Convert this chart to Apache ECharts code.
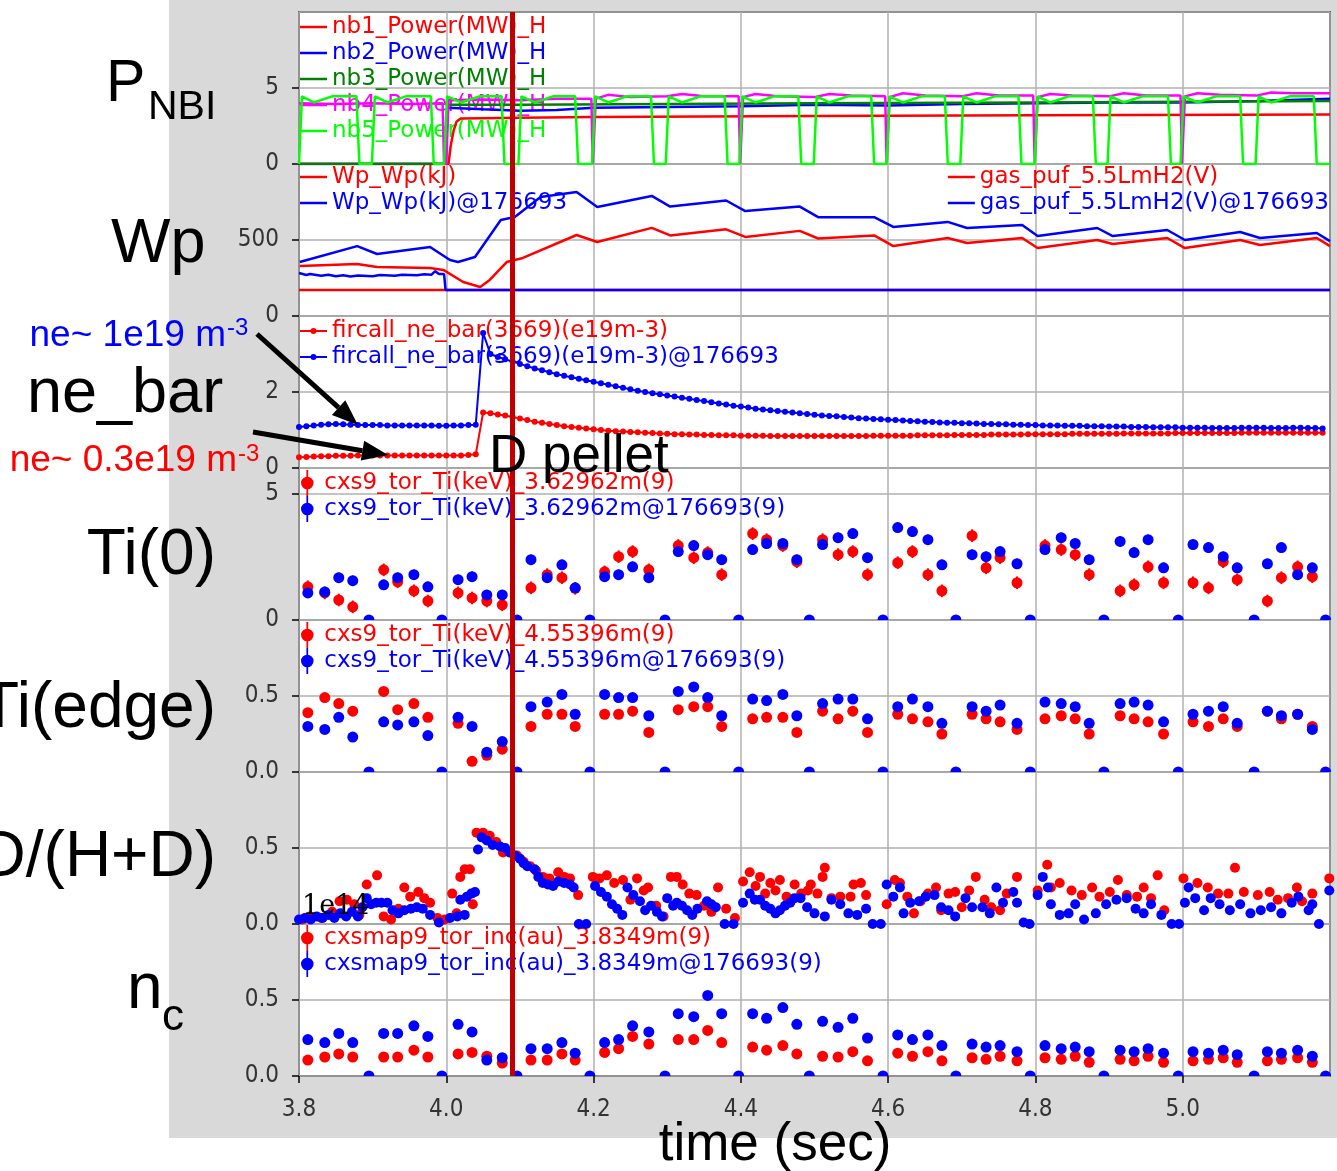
<!DOCTYPE html>
<html>
<head>
<meta charset="utf-8">
<title>176693 D pellet traces</title>
<script src="https://cdn.jsdelivr.net/npm/echarts@6/dist/echarts.min.js"></script>
<style>
  html, body { margin: 0; padding: 0; background: #fff; }
  #backdrop { position: absolute; left: 169px; top: 0; width: 1168px; height: 1138px; background: #d9d9d9; }
  #chart { position: absolute; left: 0; top: 0; width: 1337px; height: 1171px; }
</style>
</head>
<body>
<div id="backdrop"></div>
<div id="chart"></div>
<script>
const RED = '#ff0000';
const BLUE = '#0000ff';
const DARK_GREEN = '#008000';
const MAGENTA = '#ff00ff';
const LIME = '#00ff00';
const PELLET_RED = '#c00000';

const T_MIN = 3.8;
const T_MAX = 5.2;
const T_STEP = 0.2;
const PELLET_T = 4.087;

// ---- P_NBI (MW) ----
const nb1Power = [[3.8,0],[4.003,0],[4.006,1.2],[4.01,2.2],[4.014,2.8],[4.02,3.0],[4.1,3.05],[4.2,3.1],
  [4.5,3.15],[4.8,3.2],[5.2,3.25]];
const nb2Power = [[3.8,0],[3.999,0],[4.002,3.7],[4.05,3.6],[4.1,3.5],[4.15,3.55],[4.2,3.7],[4.3,3.75],
  [4.4,3.8],[4.5,3.9],[4.6,3.85],[4.7,3.95],[4.8,4.0],[4.9,4.05],[5.0,4.05],[5.1,4.15],[5.2,4.3]];
const nb3Power = [[3.8,0],[3.999,0],[4.002,3.9],[4.1,3.9],[4.3,3.95],[4.5,4.0],[4.8,4.05],[5.2,4.15]];
const nb4Power = [[3.8,4.0],[3.85,3.95],[3.9,4.0],[3.95,3.95],[3.995,4.0],[3.997,0],[4.0,0],[4.003,4.2],
  [4.05,4.25],[4.1,4.2],[4.15,4.3],[4.197,4.3],[4.199,0],[4.201,0],[4.203,4.3],[4.22,4.55],[4.25,4.4],
  [4.3,4.45],[4.32,4.6],[4.35,4.45],[4.397,4.45],[4.399,0],[4.401,0],[4.403,4.4],[4.42,4.6],[4.45,4.45],
  [4.5,4.4],[4.52,4.6],[4.55,4.5],[4.596,4.45],[4.598,0],[4.6,0],[4.602,4.4],[4.62,4.65],[4.65,4.5],
  [4.7,4.45],[4.72,4.65],[4.75,4.5],[4.797,4.5],[4.799,0],[4.801,0],[4.803,4.4],[4.82,4.6],[4.85,4.5],
  [4.9,4.45],[4.92,4.65],[4.95,4.5],[4.997,4.5],[4.999,0],[5.001,0],[5.003,4.45],[5.02,4.65],[5.05,4.55],
  [5.1,4.5],[5.12,4.7],[5.15,4.65],[5.2,4.65]];
const nb5Power = [[3.8,0],[3.804,4.45],[3.82,4.05],[3.845,4.45],[3.878,4.45],[3.882,0],
  [3.899,0],[3.903,4.45],[3.92,4.05],[3.945,4.45],[3.979,4.45],[3.983,0],
  [3.997,0],[4.001,4.45],[4.02,4.05],[4.045,4.45],[4.075,4.45],[4.079,0],
  [4.098,0],[4.102,4.45],[4.12,4.05],[4.145,4.45],[4.175,4.45],[4.179,0],
  [4.198,0],[4.202,4.45],[4.22,4.05],[4.245,4.45],[4.278,4.45],[4.282,0],
  [4.298,0],[4.302,4.45],[4.32,4.05],[4.345,4.45],[4.378,4.45],[4.382,0],
  [4.398,0],[4.402,4.45],[4.42,4.05],[4.445,4.45],[4.478,4.45],[4.482,0],
  [4.499,0],[4.503,4.45],[4.52,4.05],[4.545,4.45],[4.577,4.45],[4.581,0],
  [4.598,0],[4.602,4.45],[4.62,4.05],[4.645,4.45],[4.677,4.45],[4.681,0],
  [4.698,0],[4.702,4.45],[4.72,4.05],[4.745,4.45],[4.777,4.45],[4.781,0],
  [4.799,0],[4.803,4.45],[4.82,4.05],[4.845,4.45],[4.878,4.45],[4.882,0],
  [4.898,0],[4.902,4.45],[4.92,4.05],[4.945,4.45],[4.98,4.45],[4.984,0],
  [4.997,0],[5.001,4.45],[5.02,4.05],[5.045,4.45],[5.078,4.45],[5.082,0],
  [5.099,0],[5.103,4.45],[5.12,4.05],[5.145,4.45],[5.178,4.45],[5.182,0],[5.2,0]];

// ---- Wp (kJ) and gas puff ----
const wpShot = [[3.801,329],[3.879,342],[3.906,322],[3.978,316],[3.996,303],[4.023,224],[4.046,191],
  [4.059,237],[4.082,355],[4.104,382],[4.177,533],[4.205,487],[4.279,580],[4.304,530],[4.38,570],
  [4.406,520],[4.48,560],[4.505,510],[4.581,530],[4.607,460],[4.681,513],[4.707,480],[4.782,513],
  [4.803,447],[4.884,500],[4.905,474],[4.979,513],[5.003,447],[5.078,500],[5.105,467],[5.182,513],[5.2,460]];
const wpRef = [[3.801,355],[3.879,460],[3.906,408],[3.978,454],[4.005,368],[4.016,355],[4.039,388],
  [4.074,632],[4.093,651],[4.128,783],[4.177,816],[4.205,717],[4.279,790],[4.304,720],[4.38,760],
  [4.406,690],[4.48,720],[4.505,650],[4.581,650],[4.607,586],[4.681,619],[4.707,579],[4.782,599],
  [4.803,526],[4.884,579],[4.905,526],[4.979,566],[5.003,500],[5.078,553],[5.105,513],[5.182,546],[5.2,493]];
const gasShot = [[3.8,171],[5.2,171]];
const gasRef = [[3.8,283],[3.81,270],[3.815,276],[3.83,265],[3.84,272],[3.85,262],[3.86,268],[3.87,260],
  [3.88,266],[3.9,262],[3.91,270],[3.93,265],[3.94,272],[3.96,268],[3.97,274],[3.98,272],[3.985,295],
  [3.99,276],[3.997,276],[3.999,171],[5.2,171]];

// ---- ne_bar (1e19 m^-3), sampled every 10 ms from 3.80 s ----
const NE_T0 = 3.8;
const NE_DT = 0.01;
const neBarShot = [
  0.28,0.29,0.30,0.31,0.31,0.32,0.32,0.32,0.33,0.33,
  0.33,0.33,0.33,0.33,0.33,0.33,0.33,0.33,0.33,0.33,
  0.33,0.33,0.33,0.34,0.36,1.46,1.44,1.41,1.38,1.34,
  1.30,1.26,1.22,1.19,1.16,1.13,1.10,1.08,1.06,1.04,
  1.02,1.00,0.98,0.97,0.96,0.95,0.94,0.93,0.92,0.91,
  0.90,0.89,0.89,0.88,0.88,0.87,0.87,0.86,0.86,0.86,
  0.85,0.85,0.85,0.85,0.84,0.84,0.84,0.84,0.84,0.84,
  0.84,0.84,0.84,0.84,0.84,0.84,0.84,0.84,0.85,0.85,
  0.85,0.85,0.85,0.85,0.86,0.86,0.86,0.86,0.86,0.87,
  0.87,0.87,0.87,0.87,0.88,0.88,0.88,0.88,0.88,0.89,
  0.89,0.89,0.89,0.89,0.89,0.90,0.90,0.90,0.90,0.90,
  0.90,0.90,0.91,0.91,0.91,0.91,0.91,0.91,0.91,0.92,
  0.92,0.92,0.92,0.92,0.92,0.92,0.92,0.92,0.93,0.93,
  0.93,0.93,0.93,0.93,0.93,0.93,0.93,0.93,0.93,0.93];
const neBarRef = [
  1.08,1.10,1.12,1.14,1.15,1.16,1.15,1.14,1.13,1.13,
  1.13,1.13,1.12,1.12,1.12,1.12,1.12,1.12,1.12,1.11,
  1.11,1.12,1.12,1.13,1.14,3.55,3.00,2.92,2.86,2.80,
  2.74,2.68,2.62,2.57,2.52,2.47,2.43,2.39,2.35,2.31,
  2.27,2.23,2.19,2.15,2.11,2.07,2.03,2.00,1.97,1.94,
  1.91,1.88,1.85,1.82,1.79,1.76,1.73,1.70,1.67,1.64,
  1.62,1.59,1.56,1.54,1.52,1.50,1.48,1.46,1.44,1.42,
  1.40,1.38,1.37,1.36,1.34,1.33,1.31,1.30,1.29,1.28,
  1.27,1.26,1.25,1.24,1.23,1.22,1.21,1.20,1.19,1.19,
  1.18,1.18,1.17,1.16,1.16,1.15,1.15,1.14,1.14,1.13,
  1.13,1.12,1.12,1.12,1.11,1.11,1.11,1.10,1.10,1.10,
  1.09,1.09,1.09,1.08,1.08,1.08,1.07,1.07,1.07,1.07,
  1.06,1.06,1.06,1.06,1.05,1.05,1.05,1.05,1.06,1.06,
  1.06,1.06,1.05,1.05,1.05,1.06,1.06,1.05,1.05,1.04];

// ---- CXS sample times (s) ----
const cxsTime = [
  3.812,3.835,3.854,3.873, 3.915,3.934,3.956,3.975, 4.016,4.035,4.055,4.076,
  4.115,4.137,4.157,4.175, 4.215,4.234,4.253,4.275, 4.315,4.336,4.355,4.374,
  4.416,4.435,4.457,4.476, 4.511,4.532,4.552,4.572, 4.613,4.633,4.654,4.673,
  4.714,4.733,4.752,4.775, 4.813,4.835,4.854,4.873, 4.915,4.934,4.953,4.974,
  5.014,5.035,5.055,5.074, 5.115,5.134,5.156,5.176];
const cxsZeroTime = [3.895,3.994,4.096,4.195,4.297,4.397,4.493,4.593,4.692,4.793,4.893,4.994,5.097,5.194];

// ---- Ti(0) (keV) ----
const ti0Shot = [
  1.31,1.07,0.79,0.52, 1.98,1.51,1.15,0.75, 1.07,0.87,0.75,0.60,
  1.27,1.79,1.67,1.25, 1.90,2.50,2.70,1.98, 2.94,2.46,2.66,1.79,
  3.41,3.17,2.94,2.30, 3.17,2.58,2.70,1.79, 2.26,2.70,1.79,1.15,
  3.33,2.06,2.46,1.47, 2.94,2.78,2.58,1.79, 1.15,1.39,2.10,1.47,
  1.47,1.27,2.30,1.59, 0.75,1.67,2.10,1.71];
const ti0Ref = [
  1.07,1.11,1.67,1.55, 1.39,1.67,1.79,1.31, 1.59,1.71,0.99,0.99,
  2.38,1.67,2.18,1.27, 1.71,1.79,2.10,1.67, 2.70,2.94,2.58,2.38,
  2.78,3.02,3.02,2.38, 2.98,3.25,3.41,2.46, 3.65,3.49,3.17,2.18,
  2.58,2.50,2.70,2.22, 2.78,3.25,3.02,2.38, 3.10,2.66,3.17,2.06,
  2.98,2.86,2.50,2.06, 2.22,2.86,1.79,2.06];
const TI0_ERR_SHOT = 0.25;
const TI0_ERR_REF = 0.2;

// ---- Ti(edge) (keV) ----
const tiEdgeShot = [
  0.39,0.49,0.45,0.40, 0.53,0.41,0.45,0.36, 0.32,0.07,0.11,0.15,
  0.30,0.38,0.38,0.30, 0.38,0.38,0.40,0.26, 0.41,0.43,0.43,0.30,
  0.35,0.36,0.36,0.26, 0.40,0.35,0.40,0.26, 0.38,0.35,0.33,0.25,
  0.38,0.35,0.33,0.28, 0.35,0.37,0.35,0.25, 0.37,0.35,0.33,0.25,
  0.33,0.30,0.35,0.30, 0.40,0.35,0.38,0.30];
const tiEdgeRef = [
  0.30,0.28,0.36,0.23, 0.33,0.31,0.33,0.24, 0.36,0.30,0.13,0.20,
  0.43,0.46,0.51,0.38, 0.51,0.49,0.49,0.37, 0.53,0.56,0.49,0.37,
  0.48,0.47,0.51,0.37, 0.45,0.48,0.48,0.35, 0.43,0.48,0.43,0.32,
  0.43,0.40,0.44,0.32, 0.46,0.45,0.43,0.32, 0.45,0.46,0.44,0.33,
  0.38,0.40,0.43,0.32, 0.40,0.37,0.38,0.28];

// ---- D/(H+D) ----
const dRatioShot = [[3.805,0.03],[3.815,0.05],[3.83,0.04],[3.845,0.08],[3.855,0.15],[3.865,0.16],[3.875,0.13],
  [3.882,0.06],[3.892,0.26],[3.906,0.32],[3.915,0.05],[3.925,0.03],[3.935,0.10],[3.943,0.24],[3.951,0.18],
  [3.962,0.21],[3.97,0.17],[3.978,0.14],[3.988,0.04],[3.998,0.03],[4.008,0.20],[4.014,0.07],[4.019,0.31],
  [4.025,0.36],[4.032,0.36],[4.036,0.13],[4.041,0.60],[4.05,0.60],[4.059,0.58],[4.068,0.54],[4.077,0.47],
  [4.087,0.47],[4.096,0.45],[4.105,0.41],[4.114,0.38],[4.122,0.35],[4.131,0.31],[4.14,0.30],[4.152,0.34],
  [4.16,0.31],[4.168,0.30],[4.179,0.19],[4.199,0.31],[4.208,0.30],[4.218,0.32],[4.228,0.27],[4.24,0.29],
  [4.25,0.16],[4.259,0.30],[4.268,0.22],[4.274,0.24],[4.285,0.12],[4.295,0.05],[4.305,0.31],[4.313,0.31],
  [4.321,0.26],[4.33,0.20],[4.34,0.19],[4.35,0.12],[4.36,0.08],[4.369,0.24],[4.38,0.10],[4.392,0.04],
  [4.403,0.28],[4.412,0.34],[4.42,0.25],[4.426,0.31],[4.433,0.20],[4.44,0.27],[4.447,0.22],[4.453,0.29],
  [4.462,0.18],[4.473,0.26],[4.482,0.20],[4.491,0.22],[4.495,0.26],[4.504,0.20],[4.511,0.31],[4.514,0.37],
  [4.523,0.17],[4.535,0.18],[4.549,0.18],[4.553,0.26],[4.563,0.27],[4.57,0.19],[4.598,0.13],[4.609,0.29],
  [4.616,0.27],[4.626,0.18],[4.635,0.07],[4.644,0.15],[4.654,0.20],[4.665,0.24],[4.672,0.09],[4.682,0.20],
  [4.691,0.21],[4.70,0.11],[4.71,0.22],[4.719,0.31],[4.731,0.16],[4.74,0.11],[4.752,0.09],[4.761,0.20],
  [4.775,0.31],[4.803,0.22],[4.816,0.39],[4.821,0.24],[4.833,0.27],[4.849,0.22],[4.863,0.19],[4.877,0.24],
  [4.887,0.18],[4.901,0.21],[4.912,0.29],[4.924,0.19],[4.938,0.18],[4.947,0.24],[4.957,0.17],[4.966,0.32],
  [4.975,0.09],[5.001,0.30],[5.02,0.27],[5.034,0.24],[5.048,0.20],[5.062,0.20],[5.071,0.37],[5.083,0.21],
  [5.102,0.19],[5.118,0.21],[5.129,0.16],[5.143,0.17],[5.155,0.24],[5.162,0.15],[5.176,0.20],[5.199,0.30]];
const dRatioRef = [[3.80,0.03],[3.808,0.04],[3.816,0.03],[3.824,0.05],[3.832,0.04],[3.84,0.06],[3.848,0.04],
  [3.856,0.07],[3.864,0.05],[3.872,0.08],[3.88,0.05],[3.886,0.11],[3.892,0.17],[3.898,0.13],[3.905,0.14],
  [3.912,0.14],[3.92,0.14],[3.927,0.09],[3.935,0.07],[3.943,0.09],[3.952,0.10],[3.96,0.11],[3.968,0.10],
  [3.978,0.06],[3.99,0.01],[4.005,0.04],[4.015,0.05],[4.019,0.16],[4.025,0.06],[4.028,0.18],[4.034,0.20],
  [4.039,0.21],[4.043,0.49],[4.048,0.57],[4.055,0.55],[4.063,0.52],[4.073,0.51],[4.08,0.50],[4.086,0.47],
  [4.093,0.45],[4.10,0.43],[4.105,0.40],[4.11,0.38],[4.12,0.36],[4.125,0.31],[4.131,0.27],[4.138,0.26],
  [4.145,0.25],[4.152,0.28],[4.16,0.27],[4.168,0.26],[4.173,0.24],[4.18,0.0],[4.19,0.0],[4.202,0.25],
  [4.21,0.21],[4.218,0.18],[4.225,0.13],[4.232,0.10],[4.239,0.06],[4.246,0.24],[4.254,0.19],[4.263,0.15],
  [4.27,0.09],[4.278,0.12],[4.286,0.08],[4.293,0.05],[4.30,0.17],[4.308,0.12],[4.313,0.14],[4.32,0.12],
  [4.327,0.09],[4.334,0.06],[4.341,0.10],[4.354,0.15],[4.36,0.13],[4.366,0.11],[4.378,0.0],[4.39,0.0],
  [4.403,0.14],[4.412,0.20],[4.419,0.16],[4.426,0.16],[4.433,0.12],[4.44,0.10],[4.447,0.07],[4.453,0.09],
  [4.46,0.12],[4.467,0.14],[4.473,0.17],[4.481,0.17],[4.49,0.11],[4.50,0.07],[4.514,0.05],[4.523,0.16],
  [4.535,0.13],[4.546,0.07],[4.558,0.06],[4.57,0.10],[4.579,0.0],[4.59,0.0],[4.598,0.26],[4.607,0.18],
  [4.616,0.24],[4.621,0.07],[4.63,0.14],[4.642,0.15],[4.651,0.18],[4.663,0.19],[4.672,0.11],[4.682,0.09],
  [4.691,0.05],[4.705,0.17],[4.714,0.11],[4.728,0.11],[4.738,0.07],[4.747,0.24],[4.756,0.14],[4.77,0.21],
  [4.775,0.14],[4.784,0.01],[4.792,0.0],[4.803,0.19],[4.81,0.31],[4.817,0.24],[4.821,0.13],[4.833,0.06],
  [4.845,0.07],[4.854,0.13],[4.866,0.03],[4.882,0.07],[4.896,0.13],[4.91,0.16],[4.924,0.17],[4.936,0.10],
  [4.947,0.07],[4.957,0.13],[4.971,0.06],[4.985,0.0],[4.995,0.0],[5.003,0.14],[5.008,0.24],[5.017,0.17],
  [5.029,0.09],[5.038,0.17],[5.05,0.13],[5.064,0.09],[5.078,0.13],[5.092,0.07],[5.106,0.09],[5.12,0.11],
  [5.134,0.07],[5.148,0.14],[5.157,0.18],[5.171,0.09],[5.176,0.13],[5.185,0.0],[5.199,0.22]];

// ---- n_c (au, x1e14) ----
const ncShot = [
  0.105,0.125,0.145,0.125, 0.125,0.125,0.17,0.125, 0.145,0.155,0.13,0.085,
  0.105,0.105,0.145,0.105, 0.155,0.18,0.26,0.21, 0.24,0.24,0.30,0.22,
  0.19,0.17,0.20,0.145, 0.13,0.125,0.16,0.10, 0.15,0.13,0.16,0.10,
  0.12,0.11,0.13,0.10, 0.12,0.11,0.13,0.09, 0.11,0.10,0.13,0.09,
  0.10,0.11,0.12,0.09, 0.10,0.11,0.12,0.09];
const ncRef = [
  0.24,0.22,0.28,0.22, 0.28,0.28,0.33,0.26, 0.34,0.29,0.105,0.12,
  0.18,0.18,0.22,0.15, 0.22,0.24,0.33,0.29, 0.41,0.39,0.53,0.41,
  0.41,0.38,0.45,0.34, 0.36,0.32,0.38,0.25, 0.27,0.24,0.27,0.20,
  0.21,0.19,0.20,0.16, 0.20,0.18,0.19,0.16, 0.17,0.16,0.18,0.15,
  0.16,0.15,0.17,0.14, 0.16,0.15,0.17,0.13];

// ---- axes ----
const panelTops = [12, 164, 316, 468, 620, 772, 924];
const PANEL_H = 152;
const yMax = [10, 1000, 4, 6, 1, 1, 1];
const yStep = [5, 500, 2, 5, 0.5, 0.5, 0.5];
const yDecimals = [0, 0, 0, 0, 1, 1, 1];

const TICK_FONT = '"DejaVu Sans Condensed", "DejaVu Sans", sans-serif';
const LEGEND_FONT = '"DejaVu Sans", sans-serif';
const LABEL_FONT = '"Liberation Sans", Arial, sans-serif';

const chart = echarts.init(document.getElementById('chart'), null, { renderer: 'canvas' });

function withTime(values) {
  return values.map((v, i) => [cxsTime[i], v]);
}

function neSeriesData(values) {
  return values.map((v, i) => [Number((NE_T0 + i * NE_DT).toFixed(3)), v]);
}

const pelletMark = {
  silent: true,
  symbol: ['none', 'none'],
  label: { show: false },
  lineStyle: { color: PELLET_RED, width: 5, type: 'solid', opacity: 1 },
  data: [{ xAxis: PELLET_T }],
  animation: false,
  z: 10,
};

function lineSeries(name, data, color, idx, extra = {}) {
  return Object.assign({
    name,
    type: 'line',
    xAxisIndex: idx,
    yAxisIndex: idx,
    data,
    symbol: 'none',
    lineStyle: { color, width: 2.5 },
    itemStyle: { color },
    emphasis: { disabled: true },
  }, extra);
}

function dotSeries(name, data, color, idx, size, extra = {}) {
  return Object.assign({
    name,
    type: 'scatter',
    xAxisIndex: idx,
    yAxisIndex: idx,
    data,
    symbol: 'circle',
    symbolSize: size,
    itemStyle: { color, opacity: 1 },
    emphasis: { disabled: true },
  }, extra);
}

function errorBars(name, data, color, idx, err) {
  return {
    name,
    type: 'custom',
    xAxisIndex: idx,
    yAxisIndex: idx,
    data,
    silent: true,
    renderItem(params, api) {
      const t = api.value(0);
      const v = api.value(1);
      const a = api.coord([t, v - err]);
      const b = api.coord([t, v + err]);
      return {
        type: 'line',
        shape: { x1: a[0], y1: a[1], x2: b[0], y2: b[1] },
        style: { stroke: color, lineWidth: 2 },
      };
    },
  };
}

function zeroDots(name, color, idx) {
  return {
    name,
    type: 'custom',
    xAxisIndex: idx,
    yAxisIndex: idx,
    data: cxsZeroTime.map((t) => [t, 0]),
    silent: true,
    renderItem(params, api) {
      const p = api.coord([api.value(0), api.value(1)]);
      return {
        type: 'sector',
        shape: { cx: p[0], cy: p[1], r: 5.5, r0: 0, startAngle: Math.PI, endAngle: Math.PI * 2, clockwise: true },
        style: { fill: color },
      };
    },
  };
}

const series = [
  // P_NBI
  lineSeries('nb1_Power(MW)_H', nb1Power, RED, 0),
  lineSeries('nb2_Power(MW)_H', nb2Power, BLUE, 0),
  lineSeries('nb3_Power(MW)_H', nb3Power, DARK_GREEN, 0),
  lineSeries('nb4_Power(MW)_H', nb4Power, MAGENTA, 0),
  lineSeries('nb5_Power(MW)_H', nb5Power, LIME, 0, { markLine: pelletMark }),
  // Wp
  lineSeries('Wp_Wp(kJ)', wpShot, RED, 1),
  lineSeries('Wp_Wp(kJ)@176693', wpRef, BLUE, 1),
  lineSeries('gas_puf_5.5LmH2(V)', gasShot, RED, 1),
  lineSeries('gas_puf_5.5LmH2(V)@176693', gasRef, BLUE, 1, { markLine: pelletMark }),
  // ne_bar
  lineSeries('fircall_ne_bar(3669)(e19m-3)', neSeriesData(neBarShot), RED, 2,
    { symbol: 'circle', symbolSize: 6, showSymbol: true, lineStyle: { color: RED, width: 2 } }),
  lineSeries('fircall_ne_bar(3669)(e19m-3)@176693', neSeriesData(neBarRef), BLUE, 2,
    { symbol: 'circle', symbolSize: 6, showSymbol: true, lineStyle: { color: BLUE, width: 2 }, markLine: pelletMark }),
  // Ti(0)
  errorBars('ti0ShotErr', withTime(ti0Shot), RED, 3, TI0_ERR_SHOT),
  dotSeries('cxs9_tor_Ti(keV)_3.62962m(9)', withTime(ti0Shot), RED, 3, 11),
  zeroDots('ti0Zero', BLUE, 3),
  errorBars('ti0RefErr', withTime(ti0Ref), BLUE, 3, TI0_ERR_REF),
  dotSeries('cxs9_tor_Ti(keV)_3.62962m@176693(9)', withTime(ti0Ref), BLUE, 3, 11, { markLine: pelletMark }),
  // Ti(edge)
  dotSeries('cxs9_tor_Ti(keV)_4.55396m(9)', withTime(tiEdgeShot), RED, 4, 11),
  zeroDots('tiEdgeZero', BLUE, 4),
  dotSeries('cxs9_tor_Ti(keV)_4.55396m@176693(9)', withTime(tiEdgeRef), BLUE, 4, 11, { markLine: pelletMark }),
  // D/(H+D)
  dotSeries('D_ratio', dRatioShot, RED, 5, 10),
  dotSeries('D_ratio@176693', dRatioRef, BLUE, 5, 10, { markLine: pelletMark }),
  // n_c
  dotSeries('cxsmap9_tor_inc(au)_3.8349m(9)', withTime(ncShot), RED, 6, 11),
  zeroDots('ncZero', BLUE, 6),
  dotSeries('cxsmap9_tor_inc(au)_3.8349m@176693(9)', withTime(ncRef), BLUE, 6, 11, { markLine: pelletMark }),
];

const legendText = { fontFamily: LEGEND_FONT, fontSize: 23, lineHeight: 26 };
const LINE_ICON = 'path://M0,9H27V11.5H0Z';
const LINE_DOT_ICON = 'path://M0,9H27V11H0Z M16.5,10A3,3,0,1,1,10.5,10A3,3,0,1,1,16.5,10Z';
const ERRBAR_ICON = 'path://M5,0H6.6V24H5Z M11.6,12A5.8,5.8,0,1,1,0,12A5.8,5.8,0,1,1,11.6,12Z';

function legendBlock(items, pos, icon, iconW, iconH) {
  return Object.assign({
    orient: 'vertical',
    align: 'left',
    padding: 0,
    itemGap: 0,
    itemWidth: iconW,
    itemHeight: iconH,
    icon,
    selectedMode: false,
    z: 1,
    textStyle: legendText,
    data: items.map(([name, color]) => ({ name, textStyle: { color }, icon })),
  }, pos);
}

const legends = [
  legendBlock([['nb1_Power(MW)_H', RED], ['nb2_Power(MW)_H', BLUE], ['nb3_Power(MW)_H', DARK_GREEN],
    ['nb4_Power(MW)_H', MAGENTA], ['nb5_Power(MW)_H', LIME]], { left: 300, top: 14 }, LINE_ICON, 27, 20),
  legendBlock([['Wp_Wp(kJ)', RED], ['Wp_Wp(kJ)@176693', BLUE]], { left: 300, top: 164 }, LINE_ICON, 27, 20),
  legendBlock([['gas_puf_5.5LmH2(V)', RED], ['gas_puf_5.5LmH2(V)@176693', BLUE]], { right: 8, top: 164 },
    LINE_ICON, 27, 20),
  legendBlock([['fircall_ne_bar(3669)(e19m-3)', RED], ['fircall_ne_bar(3669)(e19m-3)@176693', BLUE]],
    { left: 300, top: 318 }, LINE_DOT_ICON, 27, 20),
  legendBlock([['cxs9_tor_Ti(keV)_3.62962m(9)', RED], ['cxs9_tor_Ti(keV)_3.62962m@176693(9)', BLUE]],
    { left: 301, top: 470 }, ERRBAR_ICON, 24, 26),
  legendBlock([['cxs9_tor_Ti(keV)_4.55396m(9)', RED], ['cxs9_tor_Ti(keV)_4.55396m@176693(9)', BLUE]],
    { left: 301, top: 622 }, ERRBAR_ICON, 24, 26),
  legendBlock([['cxsmap9_tor_inc(au)_3.8349m(9)', RED], ['cxsmap9_tor_inc(au)_3.8349m@176693(9)', BLUE]],
    { left: 301, top: 925 }, ERRBAR_ICON, 24, 26),
];

function label(text, x, y, size, opts = {}) {
  return {
    type: 'text',
    z: 100,
    silent: true,
    x,
    y,
    style: {
      text,
      fill: opts.color || '#000',
      fontSize: size,
      fontFamily: opts.font || LABEL_FONT,
      align: opts.align || 'left',
      verticalAlign: 'middle',
      textAlign: opts.align || 'left',
      textVerticalAlign: 'middle',
    },
  };
}

const annotations = [
  label('P', 106, 85, 59),
  label('NBI', 148, 108, 41),
  label('Wp', 111, 245, 63),
  label('ne_bar', 27, 395, 63),
  label('Ti(0)', 216, 556, 64, { align: 'right' }),
  label('Ti(edge)', 216, 709, 64, { align: 'right' }),
  label('D/(H+D)', 216, 858, 64, { align: 'right' }),
  label('n', 127, 990, 64),
  label('c', 162, 1018, 44),
  label('ne~ 1e19 m', 226, 336, 37, { align: 'right', color: BLUE }),
  label('-3', 227, 328, 24, { color: BLUE }),
  label('ne~ 0.3e19 m', 237, 461, 37, { align: 'right', color: RED }),
  label('-3', 238, 454, 24, { color: RED }),
  label('D pellet', 489, 457, 53),
  label('time (sec)', 775, 1145, 53, { align: 'center' }),
  label('1e14', 302, 907, 27, { font: '"DejaVu Serif", serif' }),
];

chart.setOption({
  animation: false,
  backgroundColor: 'transparent',
  grid: panelTops.map((top) => ({
    left: 299,
    right: 7,
    top,
    height: PANEL_H,
    show: true,
    backgroundColor: '#fff',
    borderColor: '#000',
    borderWidth: 1.5,
    containLabel: false,
  })),
  xAxis: panelTops.map((_, i) => ({
    type: 'value',
    gridIndex: i,
    min: T_MIN,
    max: T_MAX,
    interval: T_STEP,
    axisLine: { show: false },
    axisTick: { show: i === 6, length: 7, lineStyle: { color: '#000', width: 1.5 } },
    axisLabel: {
      show: i === 6,
      showMaxLabel: false,
      margin: 22,
      formatter: (v) => v.toFixed(1),
      fontFamily: TICK_FONT,
      fontSize: 24,
      color: '#333',
    },
    splitLine: { show: true, lineStyle: { color: '#b0b0b0', width: 1.5 } },
  })),
  yAxis: panelTops.map((_, i) => ({
    type: 'value',
    gridIndex: i,
    min: 0,
    max: yMax[i],
    interval: yStep[i],
    axisLine: { show: false },
    axisTick: { show: true, length: 7, lineStyle: { color: '#000', width: 1.5 } },
    axisLabel: {
      showMaxLabel: false,
      margin: 20,
      formatter: (v) => v.toFixed(yDecimals[i]),
      fontFamily: TICK_FONT,
      fontSize: 24,
      color: '#333',
    },
    splitLine: { show: true, lineStyle: { color: '#b0b0b0', width: 1.5 } },
  })),
  legend: legends,
  series,
  graphic: annotations,
});

// arrows from the density labels to the two ne_bar traces
function arrow(from, to) {
  const dx = to[0] - from[0];
  const dy = to[1] - from[1];
  const len = Math.hypot(dx, dy);
  const ux = dx / len;
  const uy = dy / len;
  const headLen = 26;
  const headHalf = 10;
  const base = [to[0] - ux * headLen, to[1] - uy * headLen];
  return [
    { type: 'line', z: 100, silent: true,
      shape: { x1: from[0], y1: from[1], x2: base[0], y2: base[1] },
      style: { stroke: '#000', lineWidth: 5 } },
    { type: 'polygon', z: 100, silent: true,
      shape: { points: [to, [base[0] - uy * headHalf, base[1] + ux * headHalf], [base[0] + uy * headHalf, base[1] - ux * headHalf]] },
      style: { fill: '#000' } },
  ];
}

const blueTip = chart.convertToPixel({ gridIndex: 2 }, [3.880, 1.13]);
const redTip = chart.convertToPixel({ gridIndex: 2 }, [3.921, 0.34]);

chart.setOption({
  graphic: annotations.concat(arrow([257, 334], blueTip), arrow([253, 432], redTip)),
});
</script>
</body>
</html>
